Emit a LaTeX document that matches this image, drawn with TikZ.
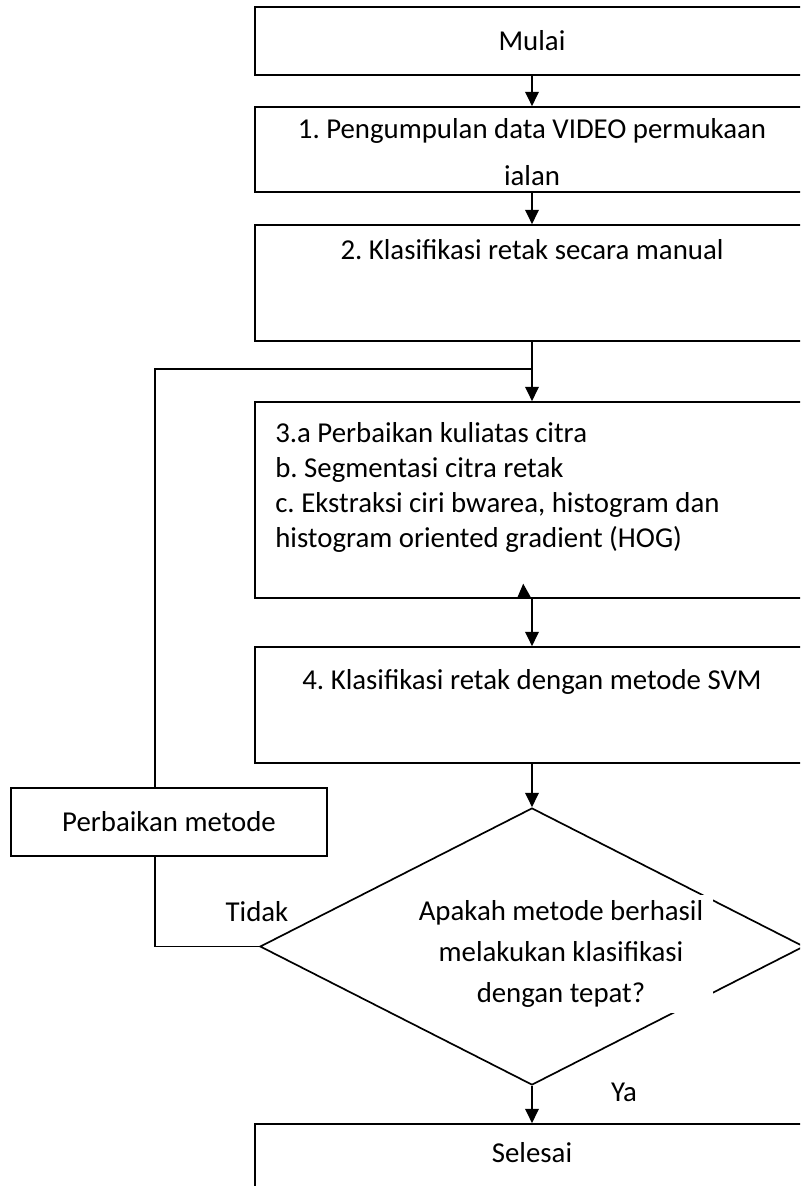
\documentclass[tikz,border=0pt]{standalone}
\usepackage{fontspec}
\setmainfont{Carlito}
\frenchspacing
\usetikzlibrary{arrows.meta,positioning,calc,shapes.geometric}

\tikzset{
  flowbox/.style={draw, line width=1.2pt, minimum width=13.85cm, inner sep=0pt},
  flowtxt/.style={font=\fontsize{20.5}{25}\selectfont, inner sep=0pt},
  flowarr/.style={line width=1.2pt, -{Triangle[length=3.6mm,width=3.4mm]}},
  flowline/.style={line width=1.2pt}
}

\begin{document}
\begin{tikzpicture}
  \clip (0,0) rectangle (20,-29.65);
  % main column boxes
  \node[flowbox, flowtxt, minimum height=1.7cm] (b0) at (13.3,-1.025) {Mulai};
  \node[flowbox, minimum height=2.125cm] (b1) at (13.3,-3.7375) {};
  \node[flowbox, minimum height=2.9cm] (b2) at (13.3,-7.075) {};
  \node[flowbox, minimum height=4.9cm] (b3) at (13.3,-12.5) {};
  \node[flowbox, minimum height=2.9cm] (b4) at (13.3,-17.625) {};
  \node[draw, line width=1.2pt, diamond, inner sep=0pt, minimum width=13.6cm, minimum height=6.925cm] (dec) at (13.3,-23.6625) {};
  \node[flowbox, minimum height=2.125cm] (b5) at (13.3,-29.1625) {};
  \node[draw, line width=1.2pt, flowtxt, minimum width=7.9cm, minimum height=1.7cm] (fix) at (4.225,-20.55) {Perbaikan metode};

  % texts
  \node[flowtxt, align=center, font=\fontsize{20.5}{34}\selectfont] (t1) at (13.3,-3.8) {1. Pengumpulan data VIDEO permukaan\\ialan};
  \node[flowtxt] (t2) at (13.3,-6.25) {2. Klasifikasi retak secara manual};
  \node[flowtxt, align=left, anchor=west] (t3) at (6.875,-12.19) {3.a Perbaikan kuliatas citra\\b. Segmentasi citra retak\\c. Ekstraksi ciri bwarea, histogram dan\\histogram oriented gradient (HOG)};
  \node[flowtxt] (t4) at (13.3,-17.05) {4. Klasifikasi retak dengan metode SVM};
  \node[flowtxt, fill=white, align=center, minimum width=7.6cm, minimum height=2.95cm, font=\fontsize{20.5}{29}\selectfont] (tq) at (14.025,-23.85) {Apakah metode berhasil\\melakukan klasifikasi\\dengan tepat?};
  \node[flowtxt] (t5) at (13.3,-28.825) {Selesai};
  \node[flowtxt] (tno) at (6.425,-22.8) {Tidak};
  \node[flowtxt] (tyes) at (15.6,-27.3) {Ya};

  % connectors
  \coordinate (lp) at (3.875,-9.225);
  \coordinate (jn) at (b2.south |- lp);
  \draw[flowarr] (b0) -- (b1);
  \draw[flowarr] (b1) -- (b2);
  \draw[flowarr] (b2.south) -- (b3.north);
  \draw[flowarr] (b3.south) -- (b4.north);
  \draw[flowarr] ($(b3.south)+(-0.2,0.02)$) -- ($(b3.south)+(-0.22,0.38)$);
  \draw[flowarr] (b4) -- (dec);
  \draw[flowarr] (dec.south) -- (b5.north);
  \draw[flowline] (dec.west) -| (lp |- fix.south);
  \draw[flowline] (lp |- fix.north) -- (lp) -- (jn);
\end{tikzpicture}
\end{document}
